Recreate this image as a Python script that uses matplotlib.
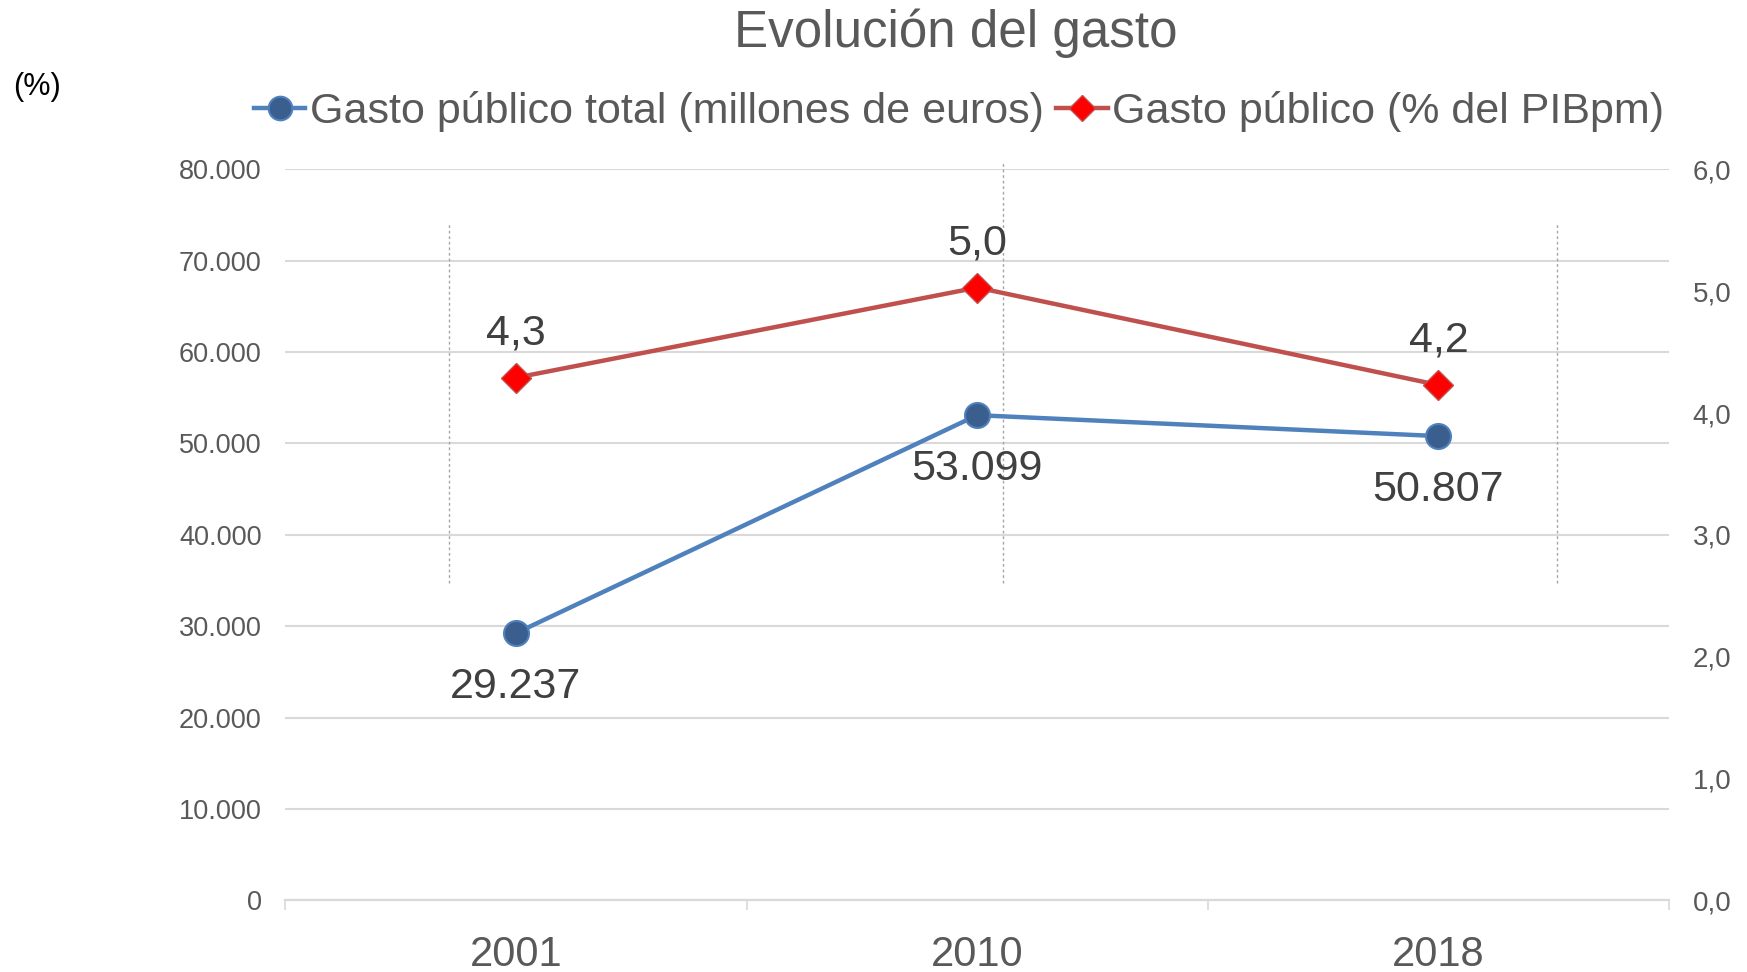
import matplotlib.pyplot as plt
from matplotlib.lines import Line2D

plt.rcParams['font.family'] = ['Liberation Sans', 'DejaVu Sans']

# Datos
years = ['2001', '2010', '2018']
gasto_total = [29237, 53099, 50807]          # millones de euros
gasto_pib = [4.29, 5.03, 4.23]               # % del PIBpm
left_ticks = [0, 10000, 20000, 30000, 40000, 50000, 60000, 70000, 80000]
right_ticks = [0, 1, 2, 3, 4, 5, 6]

blue = '#4F81BD'
blue_dark = '#3A5F8F'
red = '#C0504D'
grid_c = '#D9D9D9'
txt_c = '#595959'

fig = plt.figure(figsize=(17.47, 9.72), dpi=100)
ax = fig.add_axes([0.1633, 0.0738, 0.7921, 0.7519])
ax2 = ax.twinx()

x = list(range(len(years)))

# Serie azul (eje izquierdo)
ax.plot(x, gasto_total, color=blue, lw=3.2, marker='o', ms=18,
        mfc=blue_dark, mec=blue, mew=1.5, zorder=3)
for xi, v in zip(x, gasto_total):
    ax.annotate(f'{v:,}'.replace(',', '.'), (xi, v), xytext=(0, -39),
                textcoords='offset points', ha='center', va='center',
                fontsize=31, color='#404040')

# Serie roja (eje derecho)
ax2.plot(x, gasto_pib, color=red, lw=3.2, marker='D', ms=15,
         mfc='#FF0000', mec=red, mew=1, zorder=3)
for xi, v in zip(x, gasto_pib):
    ax2.annotate(f'{v:.1f}'.replace('.', ','), (xi, v), xytext=(0, 32),
                 textcoords='offset points', ha='center', va='center',
                 fontsize=31, color='#404040')

ax.set_xlim(-0.5, 2.5)
ax.set_ylim(0, 80000)
ax2.set_ylim(0, 6)

ax.set_yticks(left_ticks)
ax.set_yticklabels([f'{t:,}'.replace(',', '.') for t in left_ticks])
ax2.set_yticks(right_ticks)
ax2.set_yticklabels([f'{t:.1f}'.replace('.', ',') for t in right_ticks])

ax.set_xticks(x)
ax.set_xticklabels(years)
ax.set_xticks([-0.5, 0.5, 1.5, 2.5], minor=True)
ax.tick_params(axis='x', which='major', length=0, pad=25, labelsize=30, labelcolor=txt_c)
ax.tick_params(axis='x', which='minor', length=7, width=1.2, color=grid_c)
ax.tick_params(axis='y', length=0, pad=17, labelsize=19.5, labelcolor=txt_c)
ax2.tick_params(axis='y', length=0, pad=17, labelsize=20, labelcolor=txt_c)

ax.grid(axis='y', color=grid_c, lw=1.5)
ax.set_axisbelow(True)
for a in (ax, ax2):
    for s in ('top', 'left', 'right'):
        a.spines[s].set_visible(False)
    a.spines['bottom'].set_color(grid_c)
    a.spines['bottom'].set_linewidth(1.5)

# lineas punteadas verticales
ax.plot([-0.145, -0.145], [34730, 74130], color='#A6A6A6', lw=1, ls=(0, (2, 2)), zorder=1)
ax.plot([1.056, 1.056], [34730, 80900], color='#A6A6A6', lw=1, ls=(0, (2, 2)), zorder=1, clip_on=False)
ax.plot([2.257, 2.257], [34730, 74130], color='#A6A6A6', lw=1, ls=(0, (2, 2)), zorder=1)

# Leyenda
handles = [
    Line2D([], [], color=blue, lw=3.2, marker='o', ms=17, mfc=blue_dark, mec=blue, mew=1.5),
    Line2D([], [], color=red, lw=3.2, marker='D', ms=13, mfc='#FF0000', mec=red, mew=1),
]
fig.legend(handles, ['Gasto público total (millones de euros)', 'Gasto público (% del PIBpm)'],
           loc='center', bbox_to_anchor=(0.549, 0.885), ncol=2, frameon=False,
           fontsize=31, handlelength=1.2, handletextpad=0.1, columnspacing=0.3,
           labelcolor=txt_c)

fig.text(0.547, 0.966, 'Evolución del gasto', ha='center', va='center',
         fontsize=36.8, color=txt_c)
fig.text(0.021, 0.910, '(%)', ha='center', va='center', fontsize=22, color='black')

fig.savefig('out.png', dpi=100)
